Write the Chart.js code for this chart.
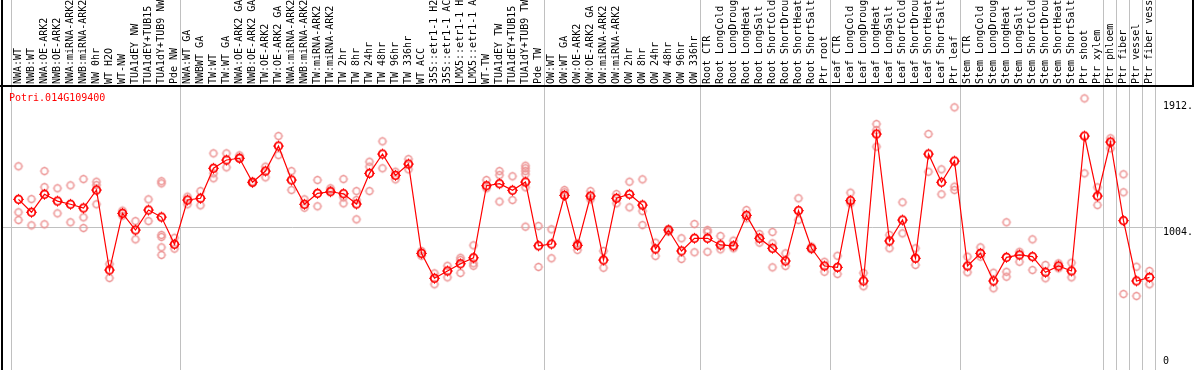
<!DOCTYPE html>
<html><head><meta charset="utf-8">
<script src="https://cdn.jsdelivr.net/npm/chart.js@4/dist/chart.umd.min.js"></script>
<style>html,body{margin:0;padding:0;background:#fff;overflow:hidden}canvas{display:block}</style>
</head><body>
<canvas id="c" width="1194" height="370"></canvas>
<script>
const geneName = 'Potri.014G109400';

const categories = [
  'NWA:WT','NWB:WT','NWA:OE-ARK2','NWB:OE-ARK2','NWA:miRNA-ARK2','NWB:miRNA-ARK2','NW 0hr','WT H2O','WT-NW',
  'TUA1dEY NW','TUA1dEY+TUB15 NW','TUA1dY+TUB9 NW','Pde NW',
  'NWA:WT GA','NWBWT GA','TW:WT','TW:WT GA','NWA:OE-ARK2 GA','NWB:OE-ARK2 GA','TW:OE-ARK2','TW:OE-ARK2 GA',
  'NWA:miRNA-ARK2','NWB:miRNA-ARK2','TW:miRNA-ARK2','TW:miRNA-ARK2','TW 2hr','TW 8hr','TW 24hr','TW 48hr','TW 96hr','TW 336hr',
  'WT ACC','35S::etr1-1 H2O','35S::etr1-1 ACC','LMX5::etr1-1 H2O','LMX5::etr1-1 ACC','WT-TW','TUA1dEY TW','TUA1dEY+TUB15 TW','TUA1dY+TUB9 TW','Pde TW',
  'OW:WT','OW:WT GA','OW:OE-ARK2','OW:OE-ARK2 GA','OW:miRNA-ARK2','OW:miRNA-ARK2','OW 2hr','OW 8hr','OW 24hr','OW 48hr','OW 96hr','OW 336hr',
  'Root CTR','Root LongCold','Root LongDrought','Root LongHeat','Root LongSalt','Root ShortCold','Root ShortDrought','Root ShortHeat','Root ShortSalt','Ptr root',
  'Leaf CTR','Leaf LongCold','Leaf LongDrought','Leaf LongHeat','Leaf LongSalt','Leaf ShortCold','Leaf ShortDrought','Leaf ShortHeat','Leaf ShortSalt','Ptr leaf',
  'Stem CTR','Stem LongCold','Stem LongDrought','Stem LongHeat','Stem LongSalt','Stem ShortCold','Stem ShortDrought','Stem ShortHeat','Stem ShortSalt',
  'Ptr shoot','Ptr xylem','Ptr phloem','Ptr fiber','Ptr vessel','Ptr fiber vessel'
];

const means = [
  1216,1119,1254,1203,1179,1151,1286,686,1111,986,1136,1083,879,
  1211,1224,1449,1511,1524,1344,1428,1616,1361,1179,1261,1273,1258,1181,1411,1556,1396,1481,
  811,624,679,733,778,1318,1333,1284,1346,868,
  881,1246,871,1241,761,1224,1254,1173,844,986,829,924,
  924,874,868,1096,924,849,754,1131,849,716,
  706,1206,604,1706,904,1061,774,1556,1344,1503,
  716,811,604,781,799,786,669,716,679,
  1691,1241,1646,1056,604,631
];

const replicates = [
  [1464,1119,1061],[1218,1021],[1428,1308,1029],[1299,1111],[1321,1044],[1368,1081,1001],[1348,1323,1179],[731,626],[1131,1093],
  [1053,916],[1216,1053],[1352,1336,949,934,856,799],[928,846],
  [1236,1179],[1278,1171],[1561,1411,1374],[1561,1456],[1546,1528],[1348,1338],[1461,1381],[1691,1548],
  [1428,1286],[1216,1153],[1361,1164],[1299,1284],[1368,1231,1186],[1278,1211,1066],[1498,1461,1278],[1651,1449],[1423,1366],[1518,1441],
  [829,793],[661,579],[718,631],[778,761,664],[871,736,718],[1361,1299],[1428,1398,1199],[1389,1211],[1468,1449,1428,1404,1306,1011],[1016,709],
  [991,774],[1286,1269],[886,836],[1278,1216],[829,703],[1256,1186],[1348,1156],[1366,1128,1023],[891,791],[993,973],[924,769],[1031,819],
  [986,971,823],[941,841],[906,849],[1136,1074],[956,891],[971,886,706],[811,716],[1224,1061],[861,841],[748,673],
  [793,656],[1266,1186],[664,564],[1781,1736,1611],[949,849],[1194,961],[849,724],[1706,1423],[1441,1254],[1906,1311,1286],
  [786,669],[856,786],[666,549],[1044,673,636],[823,748],[916,686],[724,624],[736,699],[741,631],
  [1973,1411],[1306,1173],[1674,1599],[1404,1269,506],[711,491],[679,579]
];

const yTickValues = [0, 1004, 1912];
const yTickLabels = ['0', '1004.', '1912.'];
const groupEnds = [12, 40, 52, 62, 72, 83, 84, 85, 86, 87];

const MONO = "'DejaVu Sans Mono', 'Liberation Mono', monospace";

function makeMarker(color, r, lw, tick) {
  const size = Math.ceil((r + tick) * 2 + 2);
  const c = document.createElement('canvas');
  c.width = size; c.height = size;
  const g = c.getContext('2d');
  const m = size / 2;
  g.strokeStyle = color;
  g.lineWidth = lw;
  g.beginPath(); g.arc(m, m, r, 0, Math.PI * 2); g.stroke();
  g.lineWidth = 1;
  g.beginPath();
  [[0,-1],[0,1],[-1,0],[1,0]].forEach(([dx,dy]) => {
    g.moveTo(m + dx * r, m + dy * r);
    g.lineTo(m + dx * (r + tick), m + dy * (r + tick));
  });
  g.stroke();
  return c;
}
const meanMarker = makeMarker('#ff0000', 3.8, 1.8, 1.6);
const repMarker = makeMarker('rgb(236,146,146)', 3.3, 1.3, 1.3);

const meanData = means.map((v, i) => ({x: i, y: v}));
const repData = [];
replicates.forEach((arr, i) => arr.forEach(v => repData.push({x: i, y: v})));

const decor = {
  id: 'decor',
  beforeDatasetsDraw(chart) {
    const {ctx, scales: {x, y}, chartArea: a} = chart;
    ctx.save();
    ctx.strokeStyle = '#c0c0c0';
    ctx.lineWidth = 1;
    [-1, ...groupEnds].forEach(k => {
      const px = Math.round(x.getPixelForValue(k + 0.5)) - 0.5;
      ctx.beginPath(); ctx.moveTo(px, 0); ctx.lineTo(px, chart.height); ctx.stroke();
    });
    const py = Math.round(y.getPixelForValue(yTickValues[1])) - 0.5;
    ctx.beginPath(); ctx.moveTo(2, py); ctx.lineTo(a.right + 7, py); ctx.stroke();
    ctx.restore();
  },
  afterDraw(chart) {
    const {ctx, scales: {x}, chartArea: a} = chart;
    ctx.save();
    ctx.fillStyle = '#000';
    ctx.fillRect(1, 0, 2, chart.height);
    ctx.fillRect(0, a.top - 1, chart.width, 2);
    ctx.fillRect(chart.width - 2, 0, 2, a.top);
    ctx.font = '10px ' + MONO;
    ctx.textAlign = 'left';
    ctx.textBaseline = 'middle';
    categories.forEach((lab, i) => {
      const px = x.getPixelForValue(i);
      ctx.save();
      ctx.translate(px, a.top - 2);
      ctx.rotate(-Math.PI / 2);
      ctx.fillText(lab, 0, 0);
      ctx.restore();
    });
    ctx.fillStyle = '#ff0000';
    ctx.textBaseline = 'alphabetic';
    ctx.fillText(geneName, a.left - 3, a.top + 15);
    ctx.restore();
  }
};

new Chart(document.getElementById('c'), {
  type: 'line',
  data: {
    datasets: [
      { label: 'mean', data: meanData, borderColor: '#ff0000', borderWidth: 1.2, tension: 0, fill: false,
        pointStyle: meanMarker, pointRadius: 5, order: 0 },
      { label: 'replicates', data: repData, showLine: false, borderColor: 'rgb(236,146,146)',
        pointStyle: repMarker, pointRadius: 4, order: 1 }
    ]
  },
  options: {
    responsive: false,
    animation: false,
    devicePixelRatio: 1,
    layout: { padding: { left: 12, top: 86, bottom: 8.5, right: 0 } },
    plugins: { legend: { display: false }, tooltip: { enabled: false } },
    scales: {
      x: { type: 'linear', min: -0.5, max: categories.length - 0.5, display: false },
      y: {
        type: 'linear', position: 'right', min: 0, max: 2066, bounds: 'data',
        grid: { display: false, drawTicks: true, tickLength: 7 }, border: { display: false },
        afterFit(s) { s.width = 38; },
        afterBuildTicks(s) { s.ticks = yTickValues.map(v => ({value: v})); },
        ticks: {
          padding: 0, color: '#000',
          font: { family: MONO, size: 10, lineHeight: 1 },
          callback(v) {
            const k = yTickValues.indexOf(v);
            const s = yTickLabels[k];
            return k === 1 ? ['', s] : s;
          }
        }
      }
    }
  },
  plugins: [decor]
});
</script>
</body></html>
